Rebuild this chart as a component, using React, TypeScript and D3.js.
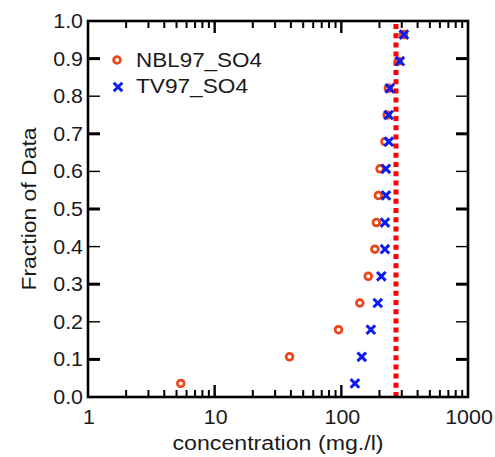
import React from 'react';
import * as d3 from 'd3';

// Cumulative fraction for each ranked sample (14 samples per series)
const fractions = [0.036, 0.107, 0.179, 0.25, 0.321, 0.393, 0.464, 0.536, 0.607, 0.679, 0.75, 0.821, 0.893, 0.964];
const nblValues = [5.4, 39, 95, 140, 163, 184, 189, 196, 202, 221, 230, 235, 281, 309];
const tvValues = [128, 145, 171, 194, 207, 221, 221, 225, 225, 237, 236, 241, 290, 312];
const limitValue = 270;

const xTickLabels = [1, 10, 100, 1000];
const yTickLabels = ['0.0', '0.1', '0.2', '0.3', '0.4', '0.5', '0.6', '0.7', '0.8', '0.9', '1.0'];
const seriesNames = ['NBL97_SO4', 'TV97_SO4'];

const W = 495;
const H = 457;
const margin = { top: 21, right: 27, bottom: 60, left: 88 };
const FONT = '"Liberation Sans", Arial, Helvetica, sans-serif';
const RED = '#ec4416';
const BLUE = '#0c1cf0';

const Cross = ({ x, y, s = 4.3 }: { x: number; y: number; s?: number }) => (
  <path
    d={`M${x - s},${y - s}L${x + s},${y + s}M${x - s},${y + s}L${x + s},${y - s}`}
    stroke={BLUE}
    strokeWidth={3}
    fill="none"
  />
);

const Ring = ({ x, y }: { x: number; y: number }) => (
  <circle cx={x} cy={y} r={3.4} fill="none" stroke={RED} strokeWidth={2.7} />
);

const Label = ({ x, y, anchor, children, sx = 1.07 }: any) => (
  <text
    transform={`translate(${x},${y}) scale(${sx},1)`}
    textAnchor={anchor}
    fontFamily={FONT}
    fontSize={20}
    fill="#1a1a1a"
  >
    {children}
  </text>
);

export default function App() {
  const x0 = margin.left;
  const x1 = W - margin.right;
  const y0 = margin.top;
  const y1 = H - margin.bottom;

  const x = d3.scaleLog().domain([1, 1000]).range([x0, x1]);
  const y = d3.scaleLinear().domain([0, 1]).range([y1, y0]);

  // minor ticks 2..9 within each decade
  const minorTicks = x.ticks().filter(t => !xTickLabels.includes(t));
  const majorInner = [10, 100];
  const yTicks = yTickLabels.map(Number).slice(1, -1);

  return (
    <svg width={W} height={H} style={{ position: 'absolute', left: 0, top: 0, background: '#fff' }}>
      {/* threshold line */}
      <line
        x1={x(limitValue)}
        x2={x(limitValue)}
        y1={y1}
        y2={y0}
        stroke="#ff0000"
        strokeWidth={5}
        strokeDasharray="5,4.2"
      />

      {/* frame */}
      <rect x={x0} y={y0} width={x1 - x0} height={y1 - y0} fill="none" stroke="#000" strokeWidth={2.6} />

      {/* x ticks */}
      {minorTicks.map(t => (
        <rect key={'mb' + t} x={x(t) - 1} y={y1 - 7} width={2} height={7} fill="#000" />
      ))}
      {minorTicks.map(t => (
        <rect key={'mt' + t} x={x(t) - 1} y={y0} width={2} height={7} fill="#000" />
      ))}
      {majorInner.map(t => (
        <rect key={'Mb' + t} x={x(t) - 1.2} y={y1 - 12} width={2.4} height={12} fill="#000" />
      ))}
      {majorInner.map(t => (
        <rect key={'Mt' + t} x={x(t) - 1.2} y={y0} width={2.4} height={12} fill="#000" />
      ))}

      {/* y ticks */}
      {yTicks.map((t, i) => (
        <rect key={'yl' + i} x={x0} y={y(t) - (i % 2 === 0 ? 1.5 : 0.7)} width={12} height={i % 2 === 0 ? 3 : 1.4} fill="#000" />
      ))}
      {yTicks.map((t, i) => (
        <rect key={'yr' + i} x={x1 - 12} y={y(t) - (i % 2 === 0 ? 1.5 : 0.7)} width={12} height={i % 2 === 0 ? 3 : 1.4} fill="#000" />
      ))}

      {/* data */}
      {nblValues.map((v, i) => (
        <Ring key={'n' + i} x={x(v)} y={y(fractions[i])} />
      ))}
      {tvValues.map((v, i) => (
        <Cross key={'t' + i} x={x(v)} y={y(fractions[i])} />
      ))}

      {/* tick labels */}
      {yTickLabels.map(t => (
        <Label key={'ylab' + t} x={83} y={y(+t) + 7} anchor="end">
          {t}
        </Label>
      ))}
      {xTickLabels.map(t => (
        <Label key={'xlab' + t} x={x(t) + 1} y={424} anchor="middle">
          {t}
        </Label>
      ))}

      {/* axis titles */}
      <text
        x={(x0 + x1) / 2}
        y={450}
        textAnchor="middle"
        fontFamily={FONT}
        fontSize={20}
        fill="#1a1a1a"
        textLength={211}
        lengthAdjust="spacingAndGlyphs"
      >
        concentration (mg./l)
      </text>
      <text
        transform={`translate(36,${(y0 + y1) / 2}) rotate(-90)`}
        textAnchor="middle"
        fontFamily={FONT}
        fontSize={20}
        fill="#1a1a1a"
        textLength={163}
        lengthAdjust="spacingAndGlyphs"
      >
        Fraction of Data
      </text>

      {/* legend */}
      <Ring x={117} y={60} />
      <text x={136} y={67} fontFamily={FONT} fontSize={20} fill="#1a1a1a" textLength={126} lengthAdjust="spacingAndGlyphs">
        {seriesNames[0]}
      </text>
      <Cross x={118} y={87} />
      <text x={136} y={93} fontFamily={FONT} fontSize={20} fill="#1a1a1a" textLength={112} lengthAdjust="spacingAndGlyphs">
        {seriesNames[1]}
      </text>
    </svg>
  );
}
